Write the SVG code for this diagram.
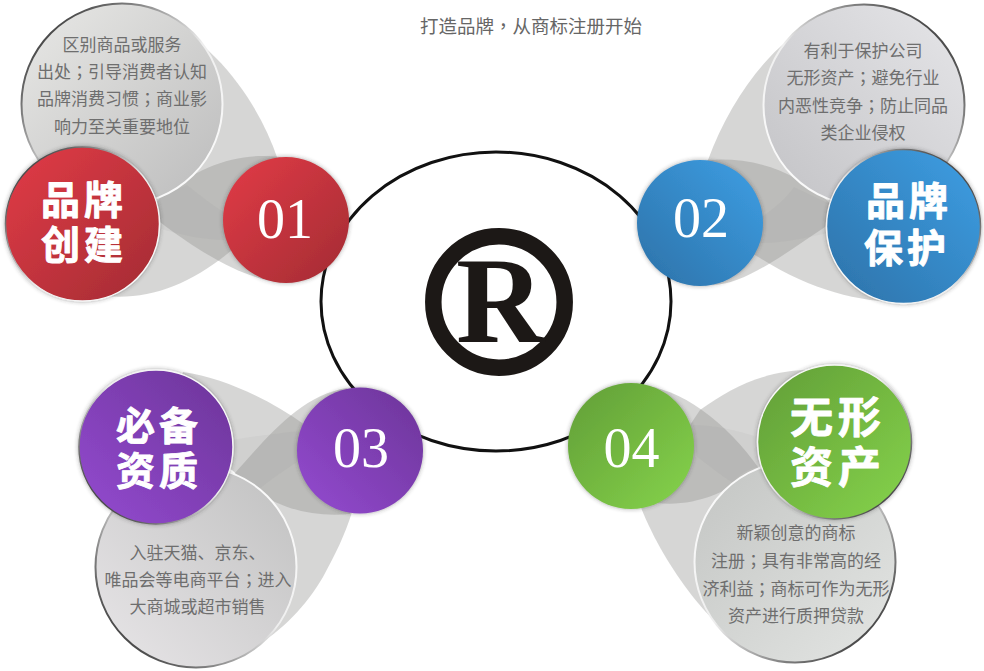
<svg xmlns="http://www.w3.org/2000/svg" width="984" height="671" viewBox="0 0 984 671">
<style>
.d{font:17px "Noto Sans CJK SC","Liberation Sans",sans-serif;fill:#6e6e6e;text-anchor:middle}
.p{font-family:"Noto Sans CJK TC","Noto Sans CJK SC",sans-serif}
.t{font:700 39px "Noto Sans CJK SC","Liberation Sans",sans-serif;letter-spacing:4px;fill:#fff;text-anchor:middle;stroke:#fff;stroke-width:.9;stroke-linejoin:round}
.tb{font-size:43px;letter-spacing:5px}
.n{font:56px "Liberation Serif","Times New Roman",serif;fill:#fff;text-anchor:middle}
.tail{fill:#8f908e;fill-opacity:.37}
.band{fill:#6f6f70;fill-opacity:.06}
.top{font:18.5px "Noto Sans CJK SC","Liberation Sans",sans-serif;fill:#666;text-anchor:middle}
.c{filter:url(#sh)}
</style>
<defs>
<filter id="sh" x="-15%" y="-15%" width="130%" height="130%"><feDropShadow dx="0" dy="0" stdDeviation="2" flood-color="#333" flood-opacity=".45"/></filter>
<linearGradient id="red" x1="0" y1="0" x2="1" y2="1"><stop offset=".1" stop-color="#dc3a45"/><stop offset=".9" stop-color="#a92d35"/></linearGradient>
<linearGradient id="blue" x1="1" y1="0" x2="0" y2="1"><stop offset=".1" stop-color="#3c9ade"/><stop offset=".9" stop-color="#2e76ae"/></linearGradient>
<linearGradient id="pur" x1="0" y1="1" x2="1" y2="0"><stop offset=".1" stop-color="#9048cb"/><stop offset=".9" stop-color="#70379e"/></linearGradient>
<linearGradient id="grn" x1="1" y1="1" x2="0" y2="0"><stop offset=".1" stop-color="#82ce49"/><stop offset=".9" stop-color="#65a339"/></linearGradient>
<linearGradient id="g1" x1="0" y1="0" x2="1" y2="1"><stop offset=".1" stop-color="#e4e4e2"/><stop offset=".9" stop-color="#c0c0c0"/></linearGradient>
<linearGradient id="r1" x1="0" y1="0" x2="1" y2="1"><stop offset=".15" stop-color="#4c4c4c"/><stop offset=".55" stop-color="#eee"/><stop offset="1" stop-color="#fff"/></linearGradient>
<linearGradient id="g2" x1="1" y1="0" x2="0" y2="1"><stop offset=".1" stop-color="#e2e2e5"/><stop offset=".9" stop-color="#c6c6c9"/></linearGradient>
<linearGradient id="r2" x1="1" y1="0" x2="0" y2="1"><stop offset=".15" stop-color="#4c4c4c"/><stop offset=".55" stop-color="#eee"/><stop offset="1" stop-color="#fff"/></linearGradient>
<linearGradient id="g3" x1="0" y1="1" x2="1" y2="0"><stop offset=".1" stop-color="#e4e2e4"/><stop offset=".9" stop-color="#c4c4c4"/></linearGradient>
<linearGradient id="r3" x1="0" y1="1" x2="1" y2="0"><stop offset=".15" stop-color="#4c4c4c"/><stop offset=".55" stop-color="#eee"/><stop offset="1" stop-color="#fff"/></linearGradient>
<linearGradient id="g4" x1="1" y1="1" x2="0" y2="0"><stop offset=".1" stop-color="#e0e2e0"/><stop offset=".9" stop-color="#c6c8c6"/></linearGradient>
<linearGradient id="r4" x1="1" y1="1" x2="0" y2="0"><stop offset=".15" stop-color="#4c4c4c"/><stop offset=".55" stop-color="#eee"/><stop offset="1" stop-color="#fff"/></linearGradient>
</defs>
<rect width="984" height="671" fill="#fff"/>
<text class="top" x="531" y="33">打造品牌<tspan class="p">，</tspan>从商标注册开始</text>

<g id="center">
<ellipse cx="496" cy="301.500" rx="175" ry="149.500" fill="#fff" stroke="#111" stroke-width="3"/>
<circle cx="499" cy="302" r="65.700" fill="none" stroke="#1c1816" stroke-width="16.500"/>
<text x="500" y="342" font-family="Liberation Serif,serif" font-weight="700" font-size="122" fill="#1c1816" text-anchor="middle">R</text>
</g>

<g id="connectors">
<path class="tail" d="M165 20C215 45 258 100 278 160L286 220L272 281C235 275 190 245 160 222L122 104Z"/>
<path class="tail" d="M105 296C150 300 190 285 232 250L286 220L280 157C240 152 200 165 160 197Z"/>
<path class="band" d="M160 197L187 185C200 195 212 205 224 212L224 240C205 240 180 235 158 228Z"/>

<path class="tail" d="M815 22C770 45 730 100 708 160L700 223L713 285C745 285 790 250 828 225L864 105Z"/>
<path class="tail" d="M900 302C860 302 810 290 760 258L700 223L707 160C745 157 790 165 832 205Z"/>
<path class="band" d="M832 205L794 187C785 200 772 210 760 218L760 243C785 243 805 238 828 233Z"/>

<path class="tail" d="M347 388C300 395 265 440 235 473L196 567L193 664C245 665 295 625 323 577C335 555 345 535 352 512L360 450Z"/>
<path class="tail" d="M183 372C225 378 270 400 305 425L360 450L350 514C305 518 265 505 232 470L156 447Z"/>
<path class="band" d="M232 440C255 436 280 433 300 431L300 460C285 470 270 480 258 490L232 470Z"/>

<path class="tail" d="M640 385C680 388 725 420 760 470L795 562L745 645C715 630 665 570 640 505Z"/>
<path class="tail" d="M822 370C770 368 735 385 700 410L640 500C680 510 720 500 762 466Z"/>
<path class="band" d="M693 425C715 425 735 430 758 437L758 467C745 470 738 476 733 483C720 475 708 465 697 457Z"/>
</g>

<g id="node-01">
<circle cx="122" cy="104" r="100.500" fill="url(#g1)" stroke="url(#r1)" stroke-width="2"/>
<text class="d" x="122" y="51">区别商品或服务</text>
<text class="d" x="122" y="78">出处<tspan class="p">；</tspan>引导消费者认知</text>
<text class="d" x="122" y="105">品牌消费习惯<tspan class="p">；</tspan>商业影</text>
<text class="d" x="122" y="133">响力至关重要地位</text>
<circle class="c" cx="82.500" cy="224" r="77" fill="url(#red)" stroke="url(#r1)" stroke-width="1.500"/>
<text class="t" x="84" y="214">品牌</text>
<text class="t" x="84" y="259">创建</text>
<circle class="c" cx="286" cy="220" r="63" fill="url(#red)"/>
<text class="n" x="285" y="238">01</text>
</g>

<g id="node-02">
<circle cx="864" cy="105" r="100.500" fill="url(#g2)" stroke="url(#r2)" stroke-width="2"/>
<text class="d" x="863" y="57">有利于保护公司</text>
<text class="d" x="863" y="84">无形资产<tspan class="p">；</tspan>避免行业</text>
<text class="d" x="863" y="112">内恶性竞争<tspan class="p">；</tspan>防止同品</text>
<text class="d" x="863" y="139">类企业侵权</text>
<circle class="c" cx="903.500" cy="226.500" r="77" fill="url(#blue)" stroke="url(#r2)" stroke-width="1.500"/>
<text class="t" x="909" y="215">品牌</text>
<text class="t" x="907" y="262">保护</text>
<circle class="c" cx="700" cy="223" r="63" fill="url(#blue)"/>
<text class="n" x="701" y="237">02</text>
</g>

<g id="node-03">
<circle cx="196" cy="567" r="100.500" fill="url(#g3)" stroke="url(#r3)" stroke-width="2"/>
<text class="d" x="197.500" y="559">入驻天猫、京东、</text>
<text class="d" x="198" y="586">唯品会等电商平台<tspan class="p">；</tspan>进入</text>
<text class="d" x="197.500" y="613">大商城或超市销售</text>
<circle class="c" cx="156" cy="447" r="77" fill="url(#pur)" stroke="url(#r3)" stroke-width="1.500"/>
<text class="t" x="159" y="440">必备</text>
<text class="t" x="159" y="485">资质</text>
<circle class="c" cx="360" cy="450.500" r="63" fill="url(#pur)"/>
<text class="n" x="361" y="467">03</text>
</g>

<g id="node-04">
<circle cx="795" cy="562" r="100.500" fill="url(#g4)" stroke="url(#r4)" stroke-width="2"/>
<text class="d" x="796" y="539">新颖创意的商标</text>
<text class="d" x="796" y="567">注册<tspan class="p">；</tspan>具有非常高的经</text>
<text class="d" x="796" y="595">济利益<tspan class="p">；</tspan>商标可作为无形</text>
<text class="d" x="796" y="622">资产进行质押贷款</text>
<circle class="c" cx="834.500" cy="442" r="77" fill="url(#grn)" stroke="url(#r4)" stroke-width="1.500"/>
<text class="t tb" x="838" y="433">无形</text>
<text class="t tb" x="838" y="483">资产</text>
<circle class="c" cx="631" cy="446" r="63" fill="url(#grn)"/>
<text class="n" x="631.500" y="467">04</text>
</g>
</svg>
